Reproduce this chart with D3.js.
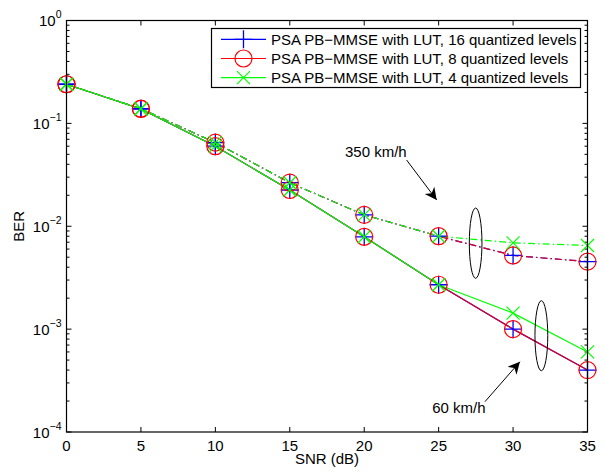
<!DOCTYPE html>
<html>
<head>
<meta charset="utf-8">
<script src="https://cdn.jsdelivr.net/npm/d3@7"></script>
<style>
  body { margin: 0; background: #fff; }
  text { font-family: "Liberation Sans", Arial, sans-serif; }
</style>
</head>
<body>
<script>
// SNR points (dB)
const snr = [0, 5, 10, 15, 20, 25, 30, 35];

// BER, 60 km/h (solid) and 350 km/h (dash-dot)
const ber60_16 = [0.24, 0.138, 0.060, 0.0225, 0.0079, 0.0027, 0.00100, 0.00040];
const ber60_8  = [0.24, 0.138, 0.060, 0.0225, 0.0079, 0.0027, 0.00100, 0.00040];
const ber60_4  = [0.24, 0.138, 0.060, 0.0225, 0.0079, 0.0027, 0.00143, 0.00060];
const ber350_16 = [0.24, 0.139, 0.065, 0.0265, 0.0129, 0.0080, 0.0052, 0.00453];
const ber350_8  = [0.24, 0.139, 0.065, 0.0265, 0.0129, 0.0080, 0.0052, 0.00453];
const ber350_4  = [0.24, 0.139, 0.065, 0.0265, 0.0129, 0.0080, 0.0069, 0.0065];

const legendLabels = [
  "PSA PB\u2212MMSE with LUT, 16 quantized levels",
  "PSA PB\u2212MMSE with LUT, 8 quantized levels",
  "PSA PB\u2212MMSE with LUT, 4 quantized levels"
];
const xTicks = [0, 5, 10, 15, 20, 25, 30, 35];
const yTicks = [1e-4, 1e-3, 1e-2, 1e-1, 1];

var w = 605, h = 472;
var pL = 66.5, pR = 587.5, pT = 20.5, pB = 432;
var fs = 15;

var svg = d3.select("body").append("svg").attr("width", w).attr("height", h);

var x = d3.scaleLinear().domain([0, 35]).range([pL, pR]);
var y = d3.scaleLog().domain([1e-4, 1]).range([pB, pT]);

// minor ticks of log axis
var minor = [];
for (var e = -4; e < 0; e++) for (var k = 2; k <= 9; k++) minor.push(k * Math.pow(10, e));

var axG = svg.append("g").attr("fill", "none").attr("stroke", "#000").attr("stroke-width", 1);
xTicks.forEach(function (t) {
  axG.append("line").attr("x1", x(t)).attr("x2", x(t)).attr("y1", pB).attr("y2", pB - 5);
  axG.append("line").attr("x1", x(t)).attr("x2", x(t)).attr("y1", pT).attr("y2", pT + 5);
});
yTicks.forEach(function (t) {
  axG.append("line").attr("x1", pL).attr("x2", pL + 5).attr("y1", y(t)).attr("y2", y(t));
  axG.append("line").attr("x1", pR).attr("x2", pR - 5).attr("y1", y(t)).attr("y2", y(t));
});
minor.forEach(function (t) {
  axG.append("line").attr("x1", pL).attr("x2", pL + 3).attr("y1", y(t)).attr("y2", y(t));
  axG.append("line").attr("x1", pR).attr("x2", pR - 3).attr("y1", y(t)).attr("y2", y(t));
});

// tick labels
svg.append("g").selectAll("text").data(xTicks).enter().append("text")
  .attr("x", function (d) { return x(d); })
  .attr("y", 450.5)
  .attr("text-anchor", "middle")
  .attr("font-size", fs)
  .text(function (d) { return d; });

var yl = svg.append("g").selectAll("text").data(yTicks).enter().append("text")
  .attr("x", 61.5)
  .attr("y", function (d) { return y(d) + 5.5; })
  .attr("text-anchor", "end")
  .attr("font-size", fs);
yl.append("tspan").text("10");
yl.append("tspan").attr("dy", -8).attr("font-size", 10.5)
  .text(function (d) { var p = Math.round(Math.log10(d)); return p < 0 ? "\u2212" + (-p) : "" + p; });

svg.append("text").attr("x", (pL + pR) / 2).attr("y", 464)
  .attr("text-anchor", "middle").attr("font-size", fs).text("SNR (dB)");
svg.append("text").attr("transform", "translate(24," + ((pT + pB) / 2) + ") rotate(-90)")
  .attr("text-anchor", "middle").attr("font-size", fs).text("BER");

// series
var dd = "7,3,1.5,3";
var series = [
  { v: ber60_16, c: "#0000ff", m: "plus", dash: null, op: 1 },
  { v: ber350_16, c: "#0000ff", m: "plus", dash: dd, op: 1 },
  { v: ber60_8, c: "#ff0000", m: "circle", dash: null, op: 0.85 },
  { v: ber350_8, c: "#ff0000", m: "circle", dash: dd, op: 0.85 },
  { v: ber60_4, c: "#00ff00", m: "x", dash: null, op: 1 },
  { v: ber350_4, c: "#00ff00", m: "x", dash: dd, op: 1 }
];

var line = d3.line().x(function (d, i) { return x(snr[i]); }).y(function (d) { return y(d); });

function marker(g, type, cx, cy, color) {
  if (type === "plus") {
    g.append("path").attr("d", "M" + (cx - 9) + "," + cy + "H" + (cx + 9) + "M" + cx + "," + (cy - 9) + "V" + (cy + 9))
      .attr("stroke", color).attr("stroke-width", 1.3).attr("fill", "none");
  } else if (type === "circle") {
    g.append("circle").attr("cx", cx).attr("cy", cy).attr("r", 8.5)
      .attr("stroke", color).attr("stroke-width", 1.2).attr("fill", "none");
  } else {
    var r = 6.5;
    g.append("path").attr("d", "M" + (cx - r) + "," + (cy - r) + "L" + (cx + r) + "," + (cy + r) + "M" + (cx - r) + "," + (cy + r) + "L" + (cx + r) + "," + (cy - r))
      .attr("stroke", color).attr("stroke-width", 1.2).attr("fill", "none");
  }
}

var plot = svg.append("g");
series.forEach(function (s) {
  plot.append("path").attr("d", line(s.v)).attr("fill", "none")
    .attr("stroke", s.c).attr("stroke-width", 1.2).attr("stroke-opacity", s.op)
    .attr("stroke-dasharray", s.dash);
});
series.forEach(function (s) {
  s.v.forEach(function (d, i) { marker(plot, s.m, x(snr[i]), y(d), s.c); });
});

// annotations (data coordinates)
var ann = svg.append("g");
ann.append("defs").append("marker").attr("id", "ah").attr("viewBox", "0 0 10 10")
  .attr("refX", 10).attr("refY", 5).attr("markerWidth", 15).attr("markerHeight", 12)
  .attr("markerUnits", "userSpaceOnUse").attr("orient", "auto")
  .append("path").attr("d", "M0,0L10,5L0,10L3,5Z").attr("fill", "#000");

ann.append("line").attr("x1", x(22.85)).attr("y1", y(0.044)).attr("x2", x(24.87)).attr("y2", y(0.018))
  .attr("stroke", "#000").attr("marker-end", "url(#ah)");
ann.append("line").attr("x1", x(28.11)).attr("y1", y(0.000197)).attr("x2", x(30.46)).attr("y2", y(0.000482))
  .attr("stroke", "#000").attr("marker-end", "url(#ah)");
ann.append("text").attr("x", x(18.71)).attr("y", y(0.0471)).attr("font-size", fs).text("350 km/h");
ann.append("text").attr("x", x(24.57)).attr("y", y(0.000152)).attr("font-size", fs).text("60 km/h");

[[27.06, 27.91, 0.01504, 0.00312], [31.47, 32.33, 0.00189, 0.000394]].forEach(function (el) {
  ann.append("ellipse")
    .attr("cx", (x(el[0]) + x(el[1])) / 2).attr("cy", (y(el[2]) + y(el[3])) / 2)
    .attr("rx", (x(el[1]) - x(el[0])) / 2).attr("ry", (y(el[3]) - y(el[2])) / 2)
    .attr("fill", "none").attr("stroke", "#000");
});

// axes box
svg.append("rect").attr("x", pL).attr("y", pT).attr("width", pR - pL).attr("height", pB - pT)
  .attr("fill", "none").attr("stroke", "#000").attr("stroke-width", 1.2);

// legend
var lg = svg.append("g");
lg.append("rect").attr("x", 211.5).attr("y", 28.5).attr("width", 369).attr("height", 59)
  .attr("fill", "#fff").attr("stroke", "#000").attr("stroke-width", 1.2);
var legendSeries = [series[0], series[2], series[4]];
legendSeries.forEach(function (s, i) {
  var ly = 39.3 + i * 19.2;
  lg.append("line").attr("x1", 221).attr("x2", 266).attr("y1", ly).attr("y2", ly).attr("stroke", s.c).attr("stroke-width", 1.2);
  marker(lg, s.m, 243.5, ly, s.c);
  lg.append("text").attr("x", 271).attr("y", ly + 5.5).attr("font-size", fs).text(legendLabels[i]);
});
</script>
</body>
</html>
